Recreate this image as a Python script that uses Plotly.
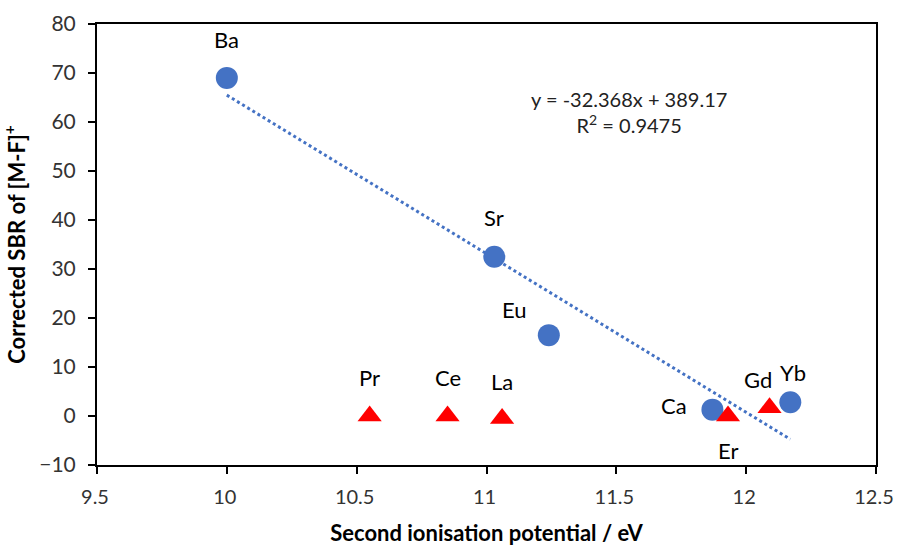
import plotly.graph_objects as go

# Alkaline earths + Eu/Yb (circles) : used for the linear fit
cercle_noms = ["Ba", "Sr", "Eu", "Ca", "Yb"]
cercle_x = [10.00, 11.03, 11.24, 11.87, 12.17]
cercle_y = [69.0, 32.5, 16.5, 1.3, 2.8]

# Lanthanides with no [M-F]+ signal (triangles)
tri_noms = ["Pr", "Ce", "La", "Er", "Gd"]
tri_x = [10.55, 10.85, 11.06, 11.93, 12.09]
tri_y = [0.0, 0.0, -0.5, 0.0, 1.7]

pente = -32.368
ordonnee = 389.17
r2 = 0.9475

BLEU = "#4472C4"
ROUGE = "#FF0000"
POLICE = "Lato, Open Sans, sans-serif"

# décalages des étiquettes (px) : nom -> (xshift, yshift)
decalages = {
    "Ba": (0, 38), "Sr": (0, 39), "Eu": (-34, 26), "Ca": (-38, 4),
    "Yb": (3, 30), "Pr": (0, 39), "Ce": (0, 39), "La": (0, 37),
    "Er": (0, -34), "Gd": (-12, 28),
}

fit_x = [min(cercle_x), max(cercle_x)]
fit_y = [pente * x + ordonnee for x in fit_x]

fig = go.Figure()

fig.add_trace(go.Scatter(
    x=fit_x, y=fit_y, mode="lines",
    line=dict(color=BLEU, width=3, dash="dot"),
    hoverinfo="skip", showlegend=False,
))

fig.add_trace(go.Scatter(
    x=cercle_x, y=cercle_y, mode="markers",
    marker=dict(symbol="circle", size=22, color=BLEU),
    showlegend=False,
))

fig.add_trace(go.Scatter(
    x=tri_x, y=tri_y, mode="markers",
    marker=dict(symbol="triangle-up", size=21, color=ROUGE),
    showlegend=False,
))

annotations = []
for noms, xs, ys in [(cercle_noms, cercle_x, cercle_y), (tri_noms, tri_x, tri_y)]:
    for nom, x, y in zip(noms, xs, ys):
        dx, dy = decalages[nom]
        annotations.append(dict(
            x=x, y=y, xref="x", yref="y", text=nom, showarrow=False,
            xshift=dx, yshift=dy,
            font=dict(family=POLICE, size=22, color="#000000"),
        ))

annotations.append(dict(
    x=11.55, y=62, xref="x", yref="y", showarrow=False,
    text=f"y = {pente}x + {ordonnee}<br>R<sup>2</sup> = {r2}",
    font=dict(family=POLICE, size=20, color="#222222"),
    align="center",
))

axe = dict(
    showline=True, linecolor="black", linewidth=2, mirror=True,
    ticks="outside", ticklen=7, tickwidth=2, tickcolor="black",
    showgrid=False, zeroline=False, automargin=False,
    ticklabeloverflow="allow",
    tickfont=dict(family=POLICE, size=21, color="#333333"),
)

fig.update_layout(
    width=897, height=549,
    plot_bgcolor="white", paper_bgcolor="white",
    margin=dict(l=97, r=21, t=24, b=84),
    xaxis=dict(
        axe, range=[9.5, 12.5], dtick=0.5,
        ticklabelstandoff=6, ticklabelshift=-2,
        tickfont=dict(family=POLICE, size=20, color="#333333"),
        title=dict(text="<b>Second ionisation potential / eV</b>",
                   font=dict(family=POLICE, size=22, color="#000000"),
                   standoff=19),
    ),
    yaxis=dict(
        axe, range=[-10, 80], dtick=10, ticklabelstandoff=8,
        title=dict(text="<b>Corrected SBR of [M-F]<sup>+</sup></b>",
                   font=dict(family=POLICE, size=22, color="#000000"),
                   standoff=8),
    ),
    annotations=annotations,
)

# pas de marge de page : la figure occupe toute la fenêtre
fig.write_html(
    "out.html",
    config={"displayModeBar": False},
    post_script="document.body.style.margin='0';document.body.style.overflow='hidden';",
)
